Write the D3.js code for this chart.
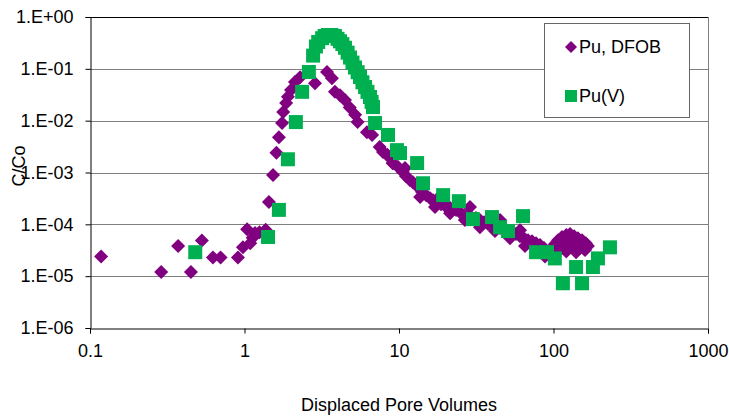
<!DOCTYPE html>
<html>
<head>
<meta charset="utf-8">
<script src="https://cdn.jsdelivr.net/npm/d3@7"></script>
<style>
  body { margin: 0; background: #fff; }
  text { font-family: "Liberation Sans", Arial, sans-serif; fill: #000; }
</style>
</head>
<body>
<div id="chart"></div>
<script>
const seriesNames = ["Pu, DFOB", "Pu(V)"];
const xTicks = [0.1, 1, 10, 100, 1000];
const xTickLabels = ["0.1", "1", "10", "100", "1000"];
const yTicks = [1e-6, 1e-5, 1e-4, 1e-3, 1e-2, 1e-1, 1];
const yTickLabels = ["1.E-06", "1.E-05", "1.E-04", "1.E-03", "1.E-02", "1.E-01", "1.E+00"];

// Pu, DFOB  [pore volumes, C/Co]
const dfobPoints = [
  [0.118, 2.4e-5], [0.289, 1.2e-5], [0.372, 3.8e-5], [0.45, 1.2e-5], [0.53, 4.9e-5],
  [0.625, 2.3e-5], [0.70, 2.3e-5], [0.907, 2.3e-5], [0.977, 3.6e-5], [1.04, 8.0e-5],
  [1.09, 4.3e-5], [1.13, 5.5e-5], [1.17, 6.8e-5], [1.25, 7.0e-5], [1.37, 7.9e-5],
  [1.44, 2.7e-4], [1.53, 8.9e-4], [1.61, 2.4e-3], [1.67, 4.8e-3], [1.75, 9.0e-3],
  [1.78, 1.47e-2], [1.86, 2.2e-2], [1.91, 2.9e-2], [2.0, 3.9e-2], [2.12, 5.6e-2],
  [2.29, 6.9e-2], [2.86, 5.3e-2], [3.42, 8.7e-2], [3.68, 6.6e-2], [3.85, 3.6e-2],
  [4.15, 3.1e-2], [4.47, 2.5e-2], [4.8, 1.8e-2], [5.2, 1.3e-2], [5.4, 9.4e-3],
  [6.2, 6.0e-3], [6.7, 5.3e-3], [7.5, 3.1e-3], [7.88, 2.48e-3], [8.4, 2.2e-3],
  [8.49, 2.07e-3], [9.1, 1.5e-3], [9.15, 1.52e-3], [9.86, 1.27e-3], [10.6, 1.02e-3],
  [10.94, 1.22e-3], [11.1, 8.5e-4], [11.8, 7.1e-4], [12.3, 6.5e-4], [13.3, 5.2e-4],
  [13.7, 3.35e-4], [14.1, 4.2e-4], [15.0, 3.66e-4], [15.9, 3.2e-4], [16.6, 2.93e-4],
  [17.1, 2.15e-4], [17.6, 2.8e-4], [18.4, 3.5e-4], [18.7, 2.45e-4], [19.9, 2.25e-4],
  [21.1, 2.15e-4], [21.4, 1.64e-4], [22.0, 1.96e-4], [23.4, 1.88e-4], [24.8, 1.72e-4],
  [26.4, 1.51e-4], [26.7, 1.21e-4], [28.0, 1.44e-4], [28.8, 2.15e-4], [29.7, 1.32e-4],
  [31.5, 1.32e-4], [33.4, 1.21e-4], [33.4, 8.8e-5], [35.5, 1.1e-4], [37.7, 1.01e-4],
  [40.0, 9.7e-5], [41.8, 7.4e-5], [42.5, 9.2e-5], [45.1, 8.5e-5], [45.1, 1.21e-4],
  [47.9, 8.1e-5], [50.8, 7.4e-5], [52.3, 5.4e-5], [53.9, 6.8e-5], [57.2, 6.5e-5],
  [60.7, 5.9e-5], [60.7, 7.7e-5], [64.4, 5.4e-5], [65.4, 3.8e-5], [68.4, 4.95e-5],
  [72.6, 4.7e-5], [77.1, 4.3e-5], [81.8, 4.0e-5], [81.8, 2.9e-5], [86.8, 3.5e-5],
  [88.1, 2.4e-5], [90.8, 2.9e-5], [102, 4.15e-5], [104, 3.18e-5], [107, 4.95e-5],
  [110, 4.3e-5], [113.5, 5.7e-5], [113.5, 3.5e-5], [121, 6.2e-5], [121, 3.0e-5],
  [124, 4.15e-5], [128, 6.5e-5], [132, 4.95e-5], [136, 5.9e-5], [136, 3.8e-5],
  [140, 2.9e-5], [144, 5.4e-5], [148.5, 4.3e-5], [148.5, 3.5e-5], [153, 4.95e-5],
  [160, 3.18e-5], [162, 4.3e-5], [167, 3.8e-5]
];

// Pu(V)  [pore volumes, C/Co]
const puvPoints = [
  [0.48, 2.9e-5], [1.42, 5.7e-5], [1.67, 1.9e-4], [1.91, 1.8e-3], [2.15, 9.4e-3],
  [2.36, 3.6e-2], [2.61, 8.7e-2], [2.78, 0.18], [2.90, 0.27], [3.0, 0.33],
  [3.18, 0.39], [3.3, 0.43], [3.47, 0.45], [3.65, 0.45], [3.85, 0.43],
  [4.0, 0.38], [4.15, 0.34], [4.3, 0.3], [4.47, 0.255], [4.65, 0.205],
  [4.82, 0.165], [5.0, 0.132], [5.19, 0.106], [5.4, 0.086], [5.59, 0.0695],
  [5.8, 0.055], [6.03, 0.0446], [6.25, 0.036], [6.49, 0.0286], [6.65, 0.023],
  [6.79, 0.0183], [7.0, 9.0e-3], [8.49, 5.3e-3], [9.7, 2.7e-3], [10.15, 2.37e-3],
  [13.1, 1.52e-3], [14.3, 6.2e-4], [19.3, 3.66e-4], [24.4, 2.8e-4], [30.1, 1.26e-4],
  [40.0, 1.38e-4], [45.1, 8.8e-5], [50.8, 7.4e-5], [63.5, 1.44e-4], [77.1, 2.9e-5],
  [90.8, 2.9e-5], [102, 2.2e-5], [115, 7.3e-6], [140, 1.5e-5], [153, 7.3e-6],
  [180, 1.5e-5], [194, 2.2e-5], [232, 3.6e-5]
];

const width = 729;
const height = 418;
const plot = { left: 90, right: 708, top: 17, bottom: 328 };
const purple = "#800080";
const green = "#00b050";
const fontSize = "18px";

const x = d3.scaleLog().domain([0.1, 1000]).range([plot.left, plot.right]);
const y = d3.scaleLog().domain([1e-6, 1]).range([plot.bottom, plot.top]);

function minorTicks(lo, hi) {
  const out = [];
  for (let d = lo; d < hi; d *= 10) {
    for (let k = 2; k <= 9; k++) out.push(d * k);
  }
  return out;
}

const svg = d3.select("#chart")
  .append("svg")
  .attr("width", width)
  .attr("height", height);

// horizontal gridlines
svg.append("g")
  .selectAll("line")
  .data(yTicks.slice(1))
  .enter()
  .append("line")
  .attr("x1", plot.left)
  .attr("x2", plot.right)
  .attr("y1", (d) => Math.round(y(d)) + 0.5)
  .attr("y2", (d) => Math.round(y(d)) + 0.5)
  .attr("stroke", (d) => (d === 1 ? "#000" : "#808080"))
  .attr("stroke-width", 1);

// right border
svg.append("line")
  .attr("x1", plot.right + 0.5).attr("x2", plot.right + 0.5)
  .attr("y1", plot.top).attr("y2", plot.bottom)
  .attr("stroke", "#808080");

// y axis
const yAxisG = svg.append("g").attr("transform", `translate(${plot.left + 0.5},0)`);
yAxisG.call(
  d3.axisLeft(y).tickValues(minorTicks(1e-6, 1)).tickSize(4).tickFormat("")
);
yAxisG.call(
  d3.axisLeft(y).tickValues(yTicks).tickSize(5)
    .tickFormat((d, i) => yTickLabels[i])
);
yAxisG.selectAll("path.domain").attr("stroke", "#000");
yAxisG.selectAll("line").attr("stroke", "#000");
yAxisG.selectAll("text")
  .attr("x", -17)
  .style("font-size", fontSize)
  .style("font-family", '"Liberation Sans", Arial, sans-serif');

// x axis
const xAxisG = svg.append("g").attr("transform", `translate(0,${plot.bottom + 0.5})`);
xAxisG.call(
  d3.axisBottom(x).tickValues(minorTicks(0.1, 1000)).tickSize(4).tickFormat("")
);
xAxisG.call(
  d3.axisBottom(x).tickValues(xTicks).tickSize(5)
    .tickFormat((d, i) => xTickLabels[i])
);
xAxisG.selectAll("path.domain").attr("stroke", "#000");
xAxisG.selectAll("line").attr("stroke", "#000");
xAxisG.selectAll("text")
  .attr("y", 16)
  .style("font-size", fontSize)
  .style("font-family", '"Liberation Sans", Arial, sans-serif');

// markers
const diamond = "M0,-7L7,0L0,7L-7,0Z";
const square = "M-7,-7H7V7H-7Z";

svg.append("g")
  .selectAll("path")
  .data(dfobPoints)
  .enter()
  .append("path")
  .attr("d", diamond)
  .attr("transform", (d) => `translate(${x(d[0])},${y(d[1])})`)
  .attr("fill", purple);

svg.append("g")
  .selectAll("path")
  .data(puvPoints)
  .enter()
  .append("path")
  .attr("d", square)
  .attr("transform", (d) => `translate(${x(d[0])},${y(d[1])})`)
  .attr("fill", green);

// axis titles
svg.append("text")
  .attr("x", (plot.left + plot.right) / 2)
  .attr("y", 411)
  .attr("text-anchor", "middle")
  .style("font-size", fontSize)
  .text("Displaced Pore Volumes");

svg.append("text")
  .attr("transform", "translate(25,166) rotate(-90)")
  .attr("text-anchor", "middle")
  .style("font-size", fontSize)
  .text("C/Co");

// legend
const legend = svg.append("g");
legend.append("rect")
  .attr("x", 544.5).attr("y", 23.5)
  .attr("width", 145).attr("height", 94)
  .attr("fill", "#fff")
  .attr("stroke", "#666");

const legendRows = [
  { name: seriesNames[0], shape: "M0,-6L6,0L0,6L-6,0Z", color: purple, cy: 47 },
  { name: seriesNames[1], shape: "M-6,-6H6V6H-6Z", color: green, cy: 96 }
];
legendRows.forEach((r) => {
  legend.append("path")
    .attr("d", r.shape)
    .attr("transform", `translate(571,${r.cy})`)
    .attr("fill", r.color);
  legend.append("text")
    .attr("x", 579)
    .attr("y", r.cy + 6)
    .style("font-size", fontSize)
    .text(r.name);
});
</script>
</body>
</html>
